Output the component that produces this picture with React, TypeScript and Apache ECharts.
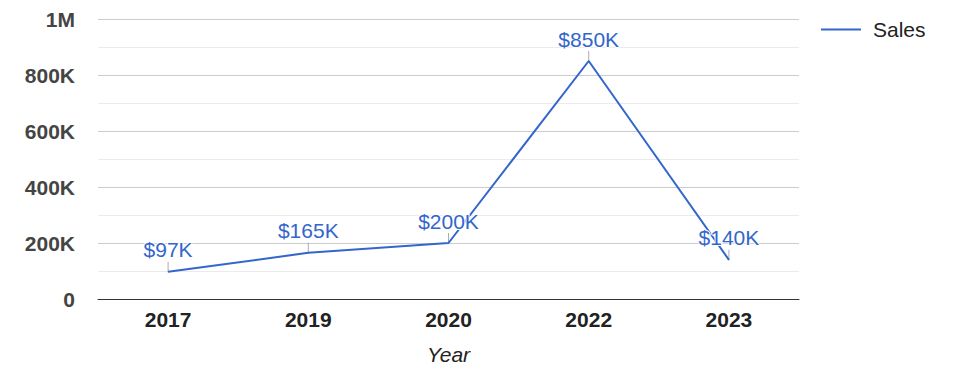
import React, { useEffect, useRef } from "react";
import * as echarts from "echarts";

const categories = ["2017", "2019", "2020", "2022", "2023"];
const salesValues = [97000, 165000, 200000, 850000, 140000];
const labelTexts = ["$97K", "$165K", "$200K", "$850K", "$140K"];
const yTickLabels: Record<number, string> = {
  0: "0",
  200000: "200K",
  400000: "400K",
  600000: "600K",
  800000: "800K",
  1000000: "1M",
};

export default function App() {
  const ref = useRef<HTMLDivElement>(null);
  useEffect(() => {
    if (!ref.current) return;
    const chart = echarts.init(ref.current, undefined, { renderer: "svg" });
    const font = "Arial, 'Liberation Sans', sans-serif";
    chart.setOption({
      animation: false,
      textStyle: { fontFamily: font },
      grid: { left: 90, right: 168, top: 11, bottom: 62, containLabel: false },
      legend: {
        left: 808,
        top: 6,
        itemWidth: 40,
        itemHeight: 14,
        itemGap: 10,
        textStyle: { fontSize: 21, color: "#222", fontFamily: font, padding: [0, 0, 0, 7] },
        data: [{ name: "Sales", icon: "path://M0,6 L40,6 L40,8 L0,8 Z" }],
      },
      xAxis: {
        type: "category",
        data: categories,
        name: "Year",
        nameLocation: "middle",
        nameGap: 45,
        nameTextStyle: { fontSize: 21, fontStyle: "italic", color: "#222", fontFamily: font },
        axisLine: { show: true, lineStyle: { color: "#333", width: 1 } },
        axisTick: { show: false },
        axisLabel: { fontSize: 21, fontWeight: "bold", color: "#222", margin: 10, fontFamily: font },
      },
      yAxis: {
        type: "value",
        min: 0,
        max: 1000000,
        interval: 200000,
        axisLine: { show: false },
        axisTick: { show: false },
        axisLabel: {
          fontSize: 21,
          fontWeight: "bold",
          color: "#444",
          margin: 23,
          fontFamily: font,
          formatter: (v: number) => yTickLabels[v] ?? "",
        },
        splitLine: { lineStyle: { color: "#cccccc", width: 1 } },
        minorTick: { show: false, splitNumber: 2 },
        minorSplitLine: { show: true, lineStyle: { color: "#ebebeb", width: 1 } },
      },
      series: [
        {
          name: "Sales",
          type: "line",
          data: salesValues,
          symbol: "circle",
          symbolSize: 1,
          lineStyle: { color: "#3366cc", width: 2 },
          itemStyle: { color: "#3366cc" },
          label: {
            show: true,
            position: "top",
            distance: 11,
            fontSize: 21,
            color: "#3366cc",
            fontFamily: font,
            textBorderColor: "#ffffff",
            textBorderWidth: 2,
            formatter: (p: any) => labelTexts[p.dataIndex],
          },
          z: 3,
        },
        {
          name: "leader",
          type: "scatter",
          data: salesValues,
          symbol: "rect",
          symbolSize: [1, 10],
          symbolOffset: [0, "-50%"],
          itemStyle: { color: "#999999" },
          silent: true,
          z: 2,
        },
      ],
    });
    return () => chart.dispose();
  }, []);
  return <div ref={ref} style={{ width: 959, height: 362 }} />;
}
